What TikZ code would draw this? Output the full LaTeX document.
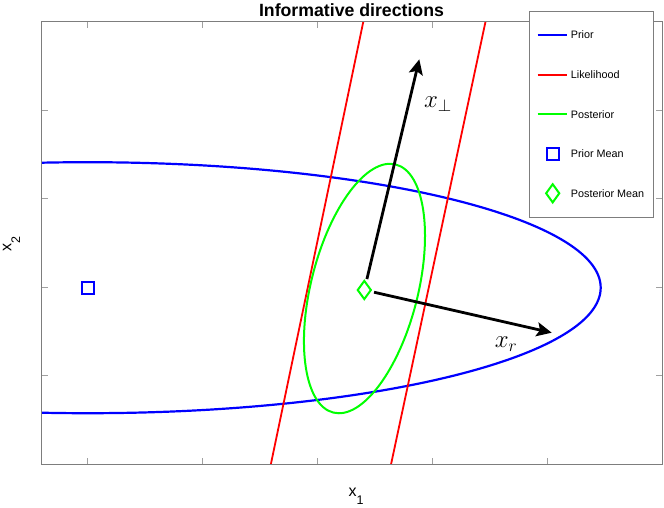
\documentclass[tikz,border=0pt]{standalone}
\usepackage{fontspec}
\setmainfont{Liberation Sans}
\usetikzlibrary{arrows.meta,shapes.geometric}

\definecolor{priorblue}{RGB}{0,0,255}
\definecolor{likered}{RGB}{255,0,0}
\definecolor{postgreen}{RGB}{0,255,0}
\definecolor{axisgray}{RGB}{125,125,125}
\definecolor{tickgray}{RGB}{160,160,160}

\begin{document}
\begin{tikzpicture}[
    x=1pt, y=-1pt,
    axisline/.style={
        draw=axisgray,
        line width=0.9pt
    },
    tickmark/.style={
        draw=tickgray,
        line width=0.9pt
    },
    prior/.style={draw=priorblue, line width=2.2pt},
    likelihood/.style={draw=likered, line width=1.8pt},
    posterior/.style={draw=postgreen, line width=2pt},
    priormark/.style={
        draw=priorblue,
        line width=2pt,
        rectangle,
        minimum size=12pt,
        inner sep=0pt
    },
    postmark/.style={
        draw=postgreen,
        line width=2pt,
        diamond,
        minimum width=14pt,
        minimum height=19pt,
        inner sep=0pt
    },
    vec/.style={-{Stealth[length=15pt,width=14pt,inset=3pt]}, line width=2.8pt},
    legtext/.style={anchor=west, inner sep=0pt, font=\fontsize{10.8}{12}\selectfont},
    axlabel/.style={anchor=base west, inner sep=0pt, font=\fontsize{16}{18}\selectfont},
    veclabel/.style={inner sep=0pt, font=\fontsize{24}{28}\selectfont}
]

\useasboundingbox (0,0) rectangle (664,507);

\node[anchor=base, inner sep=0pt, font=\bfseries\fontsize{17.7}{20}\selectfont] (title)
    at (351.5,16.5) {Informative directions};

\coordinate (axsw) at (41.7,464.5);
\coordinate (axne) at (662.3,21.7);

\begin{scope}
\clip (axsw) rectangle (axne);
\draw[prior] (87.7,287.7) ellipse [x radius=513, y radius=125.5];
\draw[likelihood, shorten <=-5pt, shorten >=-5pt] (363.3,21.7) -- (270.8,464.5);
\draw[likelihood, shorten <=-5pt, shorten >=-5pt] (485.5,21.7) -- (391,464.5);
\coordinate (postc) at (364.5,288.5);
\draw[posterior, rotate around={75.9:(postc)}] (postc) ellipse [x radius=127.9, y radius=53.5];
\end{scope}

\foreach \tx in {87.7,202.6,317.5,432.4,547.3} {
    \draw[tickmark] (\tx,464.5) -- ++(0,-6.5);
    \draw[tickmark] (\tx,21.7) -- ++(0,6.5);
}
\foreach \ty in {110.3,198.8,287.4,375.9} {
    \draw[tickmark] (41.7,\ty) -- ++(6.5,0);
    \draw[tickmark] (662.3,\ty) -- ++(-6.5,0);
}
\draw[axisline] (axsw) rectangle (axne);

\node[axlabel] (xlabel) at (348.3,496)
    {x\raisebox{-8.6pt}{\fontsize{12.5}{13}\selectfont 1}};
\node[axlabel, rotate=90] (ylabel) at (11.5,251.7)
    {x\raisebox{-8.6pt}{\fontsize{12.5}{13}\selectfont 2}};

\node[priormark] (priormean) at (87.7,287.7) {};
\node[postmark] (postmean) at (364.3,290) {};

\coordinate (perptip) at (419.3,59.3);
\coordinate (rtip) at (551.7,332.7);

\draw[vec, shorten <=3pt] (postmean) -- (perptip);
\draw[vec, shorten <=3pt] (postmean) -- (rtip);

\node[veclabel] (perplabel) at (438,104) {$x_\perp$};
\node[veclabel] (rlabel) at (506,344) {$x_r$};

\node[draw=axisgray, fill=white, line width=0.8pt, anchor=north west,
    minimum width=124pt, minimum height=206pt, inner sep=0pt] (legend) at (529.3,10.7) {};

\draw[prior] (537.7,35) -- (566.7,35);
\draw[likelihood] (537.7,75) -- (566.7,75);
\draw[posterior] (537.7,114.3) -- (566.7,114.3);
\node[priormark] (legpriormean) at (552.7,154) {};
\node[postmark] (legpostmean) at (552.7,193.3) {};

\node[legtext] (legprior) at (570.7,35) {Prior};
\node[legtext] (leglikelihood) at (570.7,75) {Likelihood};
\node[legtext] (legposterior) at (570.7,114.3) {Posterior};
\node[legtext] (legpriorm) at (570.7,154) {Prior Mean};
\node[legtext] (legpostm) at (570.7,193.3) {Posterior Mean};

\end{tikzpicture}
\end{document}
